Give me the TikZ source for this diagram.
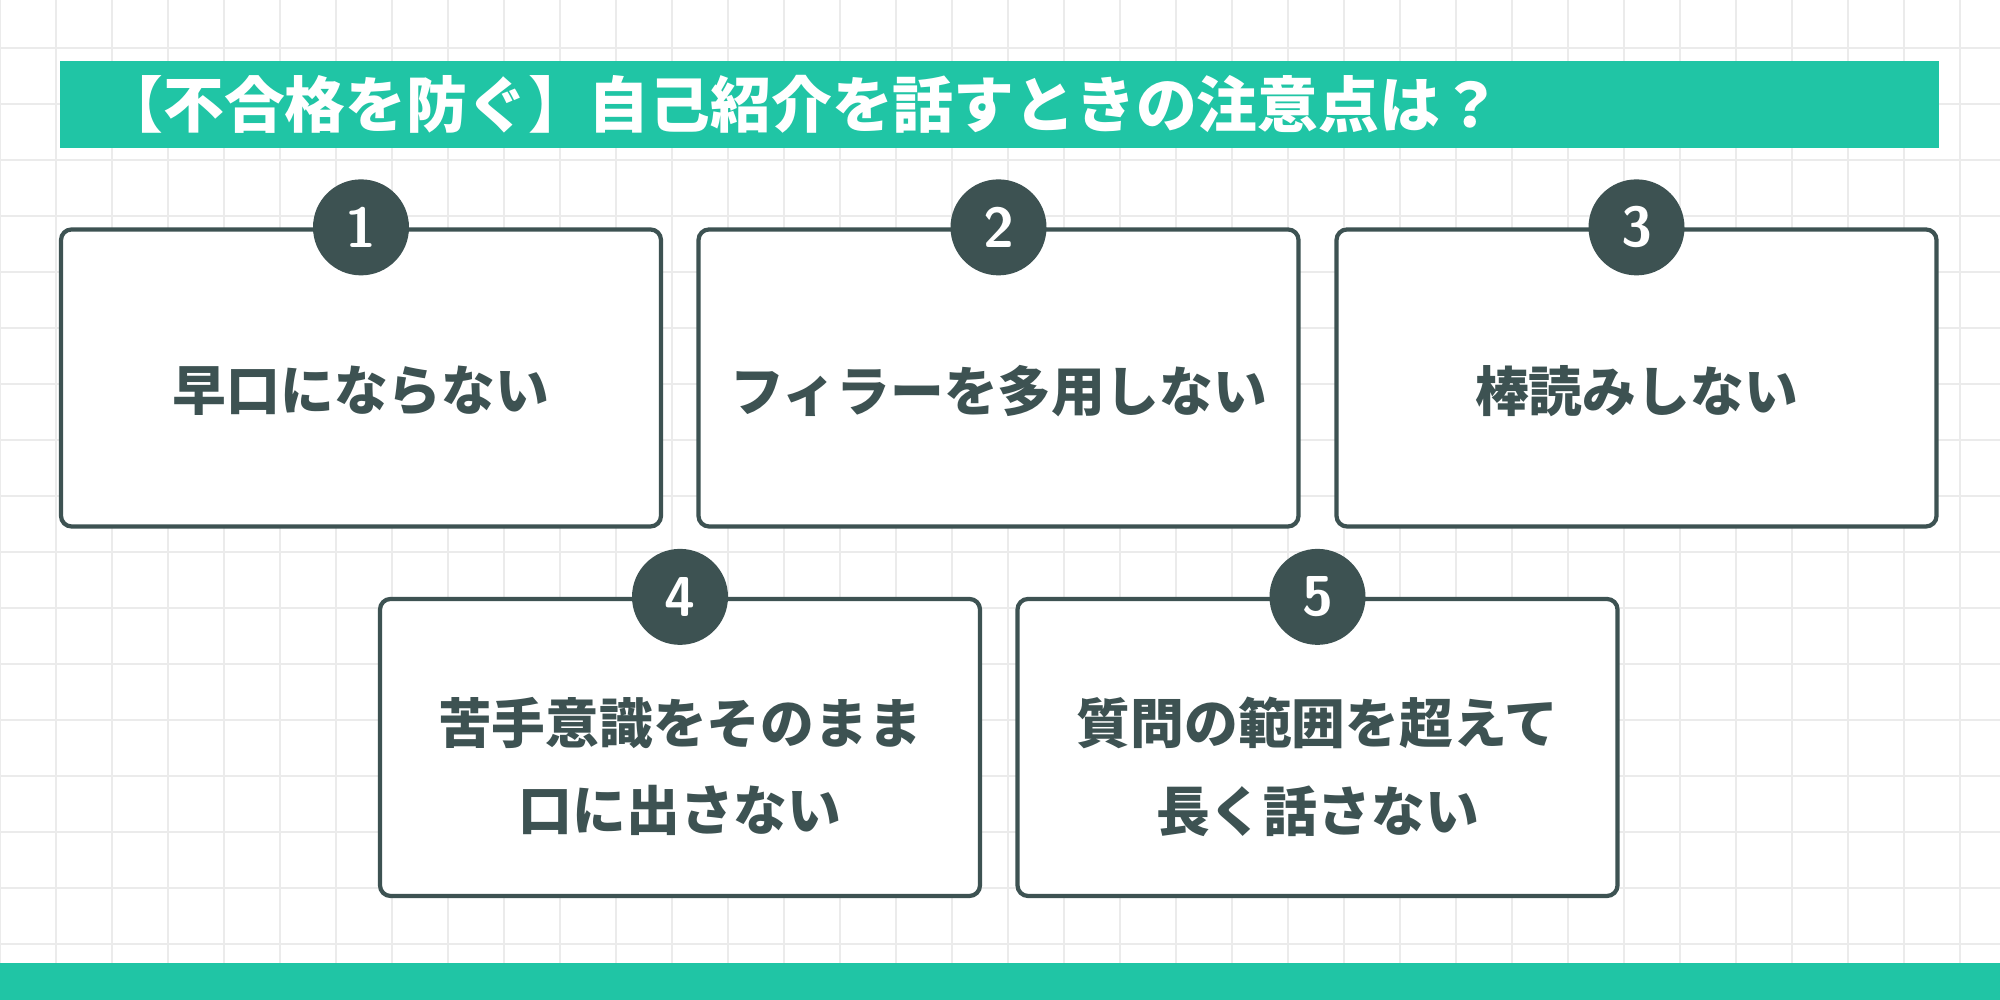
\documentclass[tikz,border=0pt]{standalone}
\usepackage{fontspec}
\newfontfamily\cjk{Noto Sans CJK JP}
\usetikzlibrary{positioning}
\definecolor{teal1}{HTML}{20C5A5}
\definecolor{slate}{HTML}{3D5252}

\begin{document}
\begin{tikzpicture}[
  card/.style = {draw=slate, line width=1.2pt, rounded corners=3pt, fill=white,
                 minimum width=6cm, minimum height=2.97cm},
  cardtext/.style = {align=center, text=slate,
                 font=\cjk\bfseries\fontsize{15.3}{25}\selectfont},
  num/.style = {circle, fill=slate, minimum size=0.96cm, inner sep=0pt,
                text=white, font=\sffamily\bfseries\fontsize{16}{16}\selectfont}]
\useasboundingbox (0,0) rectangle (20,10);
\fill[white] (0,0) rectangle (20,10);
\draw[black!8, line width=0.4pt, step=0.56cm] (0,0) grid (20,10);
\fill[teal1] (0.6,8.52) rectangle (19.39,9.39);
\node[anchor=west, text=white, font=\cjk\bfseries\fontsize{17.3}{17}\selectfont] (title) at (0.9,8.96) {【不合格を防ぐ】自己紹介を話すときの注意点は？};
\fill[teal1] (0,0) rectangle (20,0.37);

\node[card] (c1) at (3.61,6.22) {};
\node[card] (c2) at (9.985,6.22) {};
\node[card] (c3) at (16.365,6.22) {};
\node[card] (c4) at (6.8,2.525) {};
\node[card] (c5) at (13.175,2.525) {};

\node[cardtext] (t1) at ([yshift=-0.13cm]c1.center) {早口にならない};
\node[cardtext] (t2) at ([yshift=-0.13cm]c2.center) {フィラーを多用しない};
\node[cardtext] (t3) at ([yshift=-0.13cm]c3.center) {棒読みしない};
\node[cardtext] (t4) at ([yshift=-0.19cm]c4.center) {苦手意識をそのまま\\口に出さない};
\node[cardtext] (t5) at ([yshift=-0.19cm]c5.center) {質問の範囲を超えて\\長く話さない};

\node[num] (n1) at (c1.north) {1};
\node[num] (n2) at (c2.north) {2};
\node[num] (n3) at (c3.north) {3};
\node[num] (n4) at (c4.north) {4};
\node[num] (n5) at (c5.north) {5};
\end{tikzpicture}
\end{document}
